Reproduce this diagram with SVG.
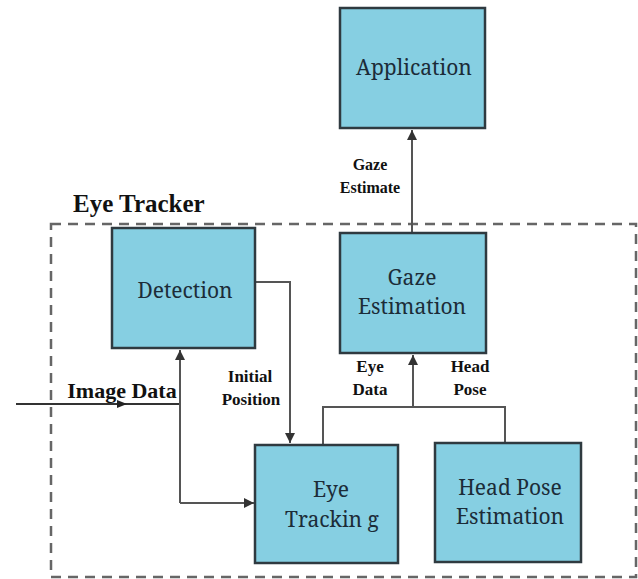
<svg xmlns="http://www.w3.org/2000/svg" width="638" height="579" viewBox="0 0 638 579">
<defs>
<marker id="ah" viewBox="0 0 10 10" refX="10" refY="5" markerWidth="10" markerHeight="10" markerUnits="userSpaceOnUse" orient="auto">
<path d="M0,0 L10,5 L0,10 Z" fill="#333"/>
</marker>
<marker id="am" viewBox="0 0 10 10" refX="5" refY="5" markerWidth="12" markerHeight="10" markerUnits="userSpaceOnUse" orient="auto">
<path d="M0,1 L10,5 L0,9 Z" fill="#222"/>
</marker>
</defs>
<style>
text{font-family:'Liberation Serif','Times New Roman',serif}
.box{fill:#86cfe2;stroke:#2f3a40;stroke-width:2.5}
.bt{font-family:'Noto Serif','DejaVu Serif',serif;font-size:21px;fill:#1c2c38;text-anchor:middle}
.lb{font-weight:bold;font-size:17px;fill:#111;text-anchor:middle}
.lb16{font-weight:bold;font-size:16px;fill:#111;text-anchor:middle}
.lb22{font-weight:bold;font-size:22px;fill:#111;text-anchor:middle}
.ttl{font-weight:bold;font-size:25px;fill:#111}
.ln{fill:none;stroke:#555;stroke-width:2}
.dash{fill:none;stroke:#666;stroke-width:2.5;stroke-dasharray:10 7}
</style>
<rect width="638" height="579" fill="#fff"/>
<g id="eye-tracker-frame">
<rect class="dash" x="51" y="224" width="585" height="353"/>
<text class="ttl" x="73" y="212">Eye Tracker</text>
</g>
<g id="connectors">
<path class="ln" d="M412,233 V130" marker-end="url(#ah)"/>
<path class="ln" d="M256,282 H290 V443" marker-end="url(#ah)"/>
<path class="ln" style="stroke:#333" d="M16,404 H122 H180" marker-mid="url(#am)"/>
<path class="ln" d="M180,503 V350" marker-end="url(#ah)"/>
<path class="ln" d="M180,503 H254" marker-end="url(#ah)"/>
<path class="ln" d="M323,445 V407 H505 V443"/>
<path class="ln" d="M413,407 V355" marker-end="url(#ah)"/>
<text class="lb16" x="370" y="170">Gaze</text>
<text class="lb16" x="370" y="193">Estimate</text>
<text class="lb" x="250" y="382">Initial</text>
<text class="lb" x="251" y="405">Position</text>
<text class="lb22" x="122" y="398">Image Data</text>
<text class="lb" x="370" y="372">Eye</text>
<text class="lb" x="370" y="395">Data</text>
<text class="lb" x="470" y="372">Head</text>
<text class="lb" x="470" y="395">Pose</text>
</g>
<g id="application">
<rect class="box" x="340" y="8" width="145" height="120"/>
<text class="bt" x="414" y="75">Application</text>
</g>
<g id="detection">
<rect class="box" x="112" y="228" width="143" height="120"/>
<text class="bt" x="185" y="298">Detection</text>
</g>
<g id="gaze-estimation">
<rect class="box" x="340" y="233" width="146" height="120"/>
<text class="bt" x="412" y="285">Gaze</text>
<text class="bt" x="412" y="314">Estimation</text>
</g>
<g id="eye-tracking">
<rect class="box" x="255" y="445" width="143" height="118"/>
<text class="bt" x="331" y="497">Eye</text>
<text class="bt" x="332" y="527">Trackin g</text>
</g>
<g id="head-pose-estimation">
<rect class="box" x="435" y="443" width="146" height="119"/>
<text class="bt" x="510" y="495">Head Pose</text>
<text class="bt" x="510" y="524">Estimation</text>
</g>
</svg>
